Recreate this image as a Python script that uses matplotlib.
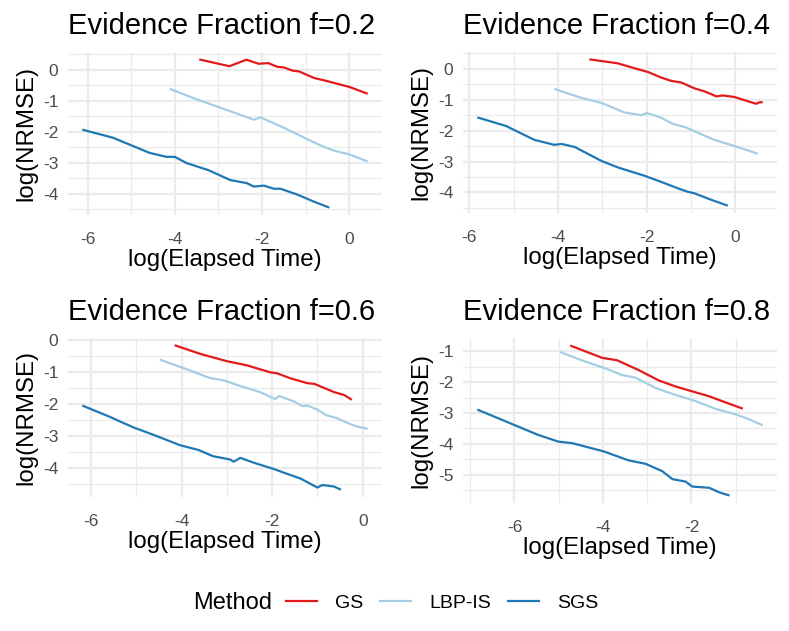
import matplotlib.pyplot as plt
from matplotlib.lines import Line2D
from matplotlib.ticker import MultipleLocator

plt.rcParams["font.family"] = ["Liberation Sans", "DejaVu Sans"]

METHODS = ["GS", "LBP-IS", "SGS"]
COLORS = {"GS": "#E31A1C", "LBP-IS": "#A6CEE3", "SGS": "#1F78B4"}
FRACTIONS = ["0.2", "0.4", "0.6", "0.8"]

# f = 0.2
gs_02_x = [-3.44, -2.75, -2.36, -2.08, -1.86, -1.65, -1.5, -1.31, -1.15, -0.81, -0.54, -0.35, 0.0, 0.42]
gs_02_y = [0.34, 0.12, 0.33, 0.2, 0.22, 0.1, 0.08, -0.02, -0.05, -0.26, -0.35, -0.42, -0.55, -0.77]
lbp_02_x = [-4.12, -3.5, -3.0, -2.5, -2.19, -2.04, -1.5, -0.96, -0.65, -0.35, 0.0, 0.42]
lbp_02_y = [-0.61, -0.95, -1.2, -1.45, -1.61, -1.53, -1.87, -2.24, -2.45, -2.61, -2.73, -2.96]
sgs_02_x = [-6.12, -5.42, -4.58, -4.19, -4.0, -3.73, -3.23, -2.73, -2.35, -2.19, -1.96, -1.73, -1.58,
            -1.19, -0.81, -0.46]
sgs_02_y = [-1.93, -2.19, -2.68, -2.81, -2.81, -3.01, -3.24, -3.56, -3.66, -3.77, -3.74, -3.84, -3.84,
            -4.03, -4.26, -4.45]

# f = 0.4
gs_04_x = [-3.29, -2.65, -2.27, -1.97, -1.67, -1.44, -1.22, -0.92, -0.69, -0.54, -0.43, -0.28, -0.02,
           0.29, 0.47, 0.55, 0.62]
gs_04_y = [0.31, 0.18, 0.02, -0.1, -0.28, -0.39, -0.44, -0.63, -0.73, -0.82, -0.89, -0.86, -0.91,
           -1.05, -1.13, -1.08, -1.08]
lbp_04_x = [-4.08, -3.47, -3.02, -2.5, -2.12, -1.99, -1.67, -1.41, -1.14, -0.84, -0.47, -0.17, 0.14, 0.51]
lbp_04_y = [-0.65, -0.94, -1.1, -1.41, -1.5, -1.43, -1.58, -1.78, -1.88, -2.07, -2.3, -2.43, -2.57, -2.75]
sgs_04_x = [-5.82, -5.17, -4.53, -4.08, -3.92, -3.62, -3.02, -2.65, -2.05, -1.67, -1.29, -1.07, -0.92,
            -0.54, -0.17]
sgs_04_y = [-1.57, -1.85, -2.3, -2.46, -2.43, -2.53, -2.98, -3.19, -3.46, -3.66, -3.87, -3.98, -4.03,
            -4.24, -4.43]

# f = 0.6
gs_06_x = [-4.15, -3.59, -3.0, -2.56, -2.04, -1.89, -1.59, -1.22, -1.07, -0.85, -0.63, -0.41, -0.24]
gs_06_y = [-0.15, -0.42, -0.65, -0.78, -1.0, -1.03, -1.19, -1.34, -1.36, -1.49, -1.62, -1.71, -1.86]
lbp_06_x = [-4.48, -3.89, -3.37, -3.07, -2.7, -2.26, -1.93, -1.85, -1.52, -1.33, -1.22, -1.0, -0.81,
            -0.56, -0.33, -0.15, 0.11]
lbp_06_y = [-0.6, -0.9, -1.18, -1.25, -1.43, -1.62, -1.84, -1.74, -1.91, -2.06, -2.04, -2.17, -2.34,
            -2.44, -2.59, -2.69, -2.77]
sgs_06_x = [-6.19, -5.59, -5.07, -4.56, -4.04, -3.63, -3.3, -2.93, -2.85, -2.7, -2.41, -1.96, -1.67,
            -1.37, -1.0, -0.89, -0.63, -0.48]
sgs_06_y = [-2.04, -2.39, -2.72, -2.99, -3.28, -3.43, -3.63, -3.73, -3.8, -3.68, -3.83, -4.03, -4.18,
            -4.33, -4.61, -4.53, -4.58, -4.68]

# f = 0.8
gs_08_x = [-4.74, -4.02, -3.68, -3.19, -2.73, -2.36, -1.98, -1.6, -1.3, -0.84]
gs_08_y = [-0.81, -1.21, -1.29, -1.61, -1.95, -2.14, -2.3, -2.46, -2.62, -2.86]
lbp_08_x = [-4.97, -4.48, -3.95, -3.57, -3.27, -2.81, -2.43, -1.9, -1.45, -0.99, -0.69, -0.39]
lbp_08_y = [-1.02, -1.29, -1.55, -1.77, -1.85, -2.19, -2.38, -2.62, -2.87, -3.05, -3.21, -3.4]
sgs_08_x = [-6.84, -6.22, -5.47, -5.01, -4.7, -4.48, -3.98, -3.42, -3.04, -2.66, -2.43, -2.13, -1.98,
            -1.6, -1.37, -1.14]
sgs_08_y = [-2.89, -3.26, -3.71, -3.93, -3.98, -4.06, -4.25, -4.54, -4.65, -4.89, -5.15, -5.23, -5.39,
            -5.43, -5.58, -5.68]

SERIES = {
    "0.2": {"GS": (gs_02_x, gs_02_y), "LBP-IS": (lbp_02_x, lbp_02_y), "SGS": (sgs_02_x, sgs_02_y)},
    "0.4": {"GS": (gs_04_x, gs_04_y), "LBP-IS": (lbp_04_x, lbp_04_y), "SGS": (sgs_04_x, sgs_04_y)},
    "0.6": {"GS": (gs_06_x, gs_06_y), "LBP-IS": (lbp_06_x, lbp_06_y), "SGS": (sgs_06_x, sgs_06_y)},
    "0.8": {"GS": (gs_08_x, gs_08_y), "LBP-IS": (lbp_08_x, lbp_08_y), "SGS": (sgs_08_x, sgs_08_y)},
}

W, H = 789, 631
# panel boxes in pixels: left, top, right, bottom
BOXES = [(68, 52, 382, 215), (463, 52, 777, 213), (68, 338, 382, 497), (463, 338, 777, 503)]

fig = plt.figure(figsize=(W / 100, H / 100), dpi=100)

for frac, (l, t, r, b) in zip(FRACTIONS, BOXES):
    ax = fig.add_axes([l / W, 1 - b / H, (r - l) / W, (b - t) / H])
    for m in METHODS:
        xs, ys = SERIES[frac][m]
        ax.plot(xs, ys, color=COLORS[m], lw=1.6, solid_capstyle="butt")
    ax.margins(0.05)
    ax.xaxis.set_major_locator(MultipleLocator(2))
    ax.xaxis.set_minor_locator(MultipleLocator(1))
    ax.yaxis.set_major_locator(MultipleLocator(1))
    ax.yaxis.set_minor_locator(MultipleLocator(0.5))
    ax.grid(which="major", color="#EBEBEB", lw=1.6)
    ax.grid(which="minor", color="#EBEBEB", lw=0.9)
    ax.set_axisbelow(True)
    for s in ax.spines.values():
        s.set_visible(False)
    ax.tick_params(which="both", length=0)
    ax.tick_params(axis="x", pad=12, labelsize=12.5, labelcolor="#4D4D4D")
    ax.tick_params(axis="y", pad=7, labelsize=12.5, labelcolor="#4D4D4D")
    ax.xaxis.set_major_formatter(plt.FuncFormatter(lambda v, p: f"{v:g}"))
    ax.yaxis.set_major_formatter(plt.FuncFormatter(lambda v, p: f"{v:g}"))
    ax.set_xlabel("log(Elapsed Time)", fontsize=17.3, labelpad=2)
    ax.set_ylabel("log(NRMSE)", fontsize=17.3, labelpad=4)
    ax.set_title(f"Evidence Fraction f={frac}", loc="left", fontsize=21, pad=13)

handles = [Line2D([], [], color=COLORS[m], lw=1.6) for m in METHODS]
fig.text(193 / W, 1 - 603 / H, "Method", fontsize=17, ha="left", va="center")
fig.legend(handles, METHODS, loc="center", bbox_to_anchor=(442 / W, 1 - 603 / H), ncol=3,
           frameon=False, fontsize=14, handlelength=1.6, handletextpad=0.9, columnspacing=0.9)

fig.savefig("out.png", dpi=100)
